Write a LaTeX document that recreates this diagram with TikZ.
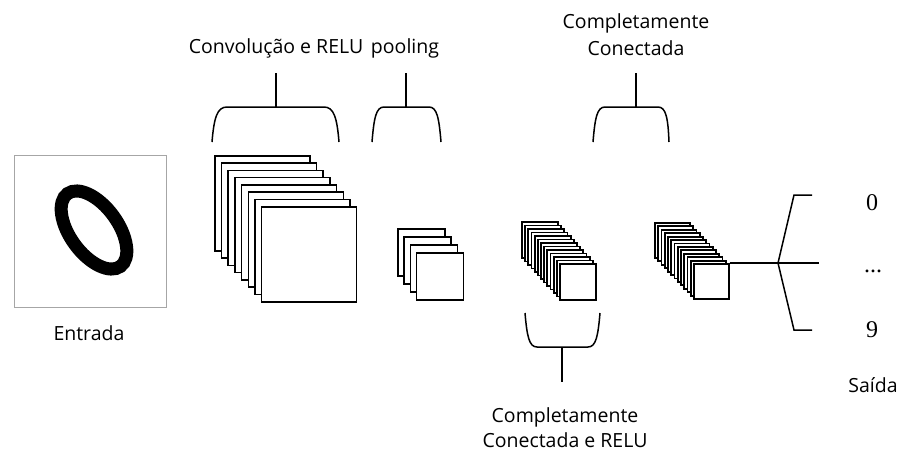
\documentclass[tikz,border=0pt]{standalone}
\usepackage{fontspec}
\setmainfont{Open Sans}
\newfontfamily\digitfont{Liberation Serif}
\usetikzlibrary{positioning}

\tikzset{
  sheet/.style={draw, fill=white, line width=1.5pt, inner sep=0pt, anchor=north west},
  thinsheet/.style={sheet, line width=1.9pt},
  brace/.style={line width=1.5pt},
  lbl/.style={font=\fontsize{19.5}{22}\selectfont, anchor=base},
  digit/.style={font=\digitfont\fontsize{24}{28}\selectfont, anchor=base}
}

\begin{document}
\begin{tikzpicture}[x=1pt,y=-1pt]
\useasboundingbox (0,0) rectangle (901,450);

% entrada
\node[draw=gray!70, line width=0.8pt, minimum size=152pt, inner sep=0pt, anchor=north west] (img) at (14,155) {};
\draw[line width=13pt, rotate around={-54:(94,230)}] (94,230) ellipse (45 and 24);
\node[lbl] (entrada) at (89,340) {Entrada};

% camadas
\foreach \i in {0,...,7}
  \node[sheet, minimum size=95pt] (conv\i) at ({214+6.71*\i},{155+7.29*\i}) {};
\foreach \i in {0,...,3}
  \node[sheet, minimum size=47pt] (pool\i) at ({397+6.33*\i},{228+8*\i}) {};
\foreach \i in {0,...,11}
  \node[thinsheet, minimum size=36pt] (fca\i) at ({521+3.17*\i},{221+3.5*\i}) {};
\node[sheet, minimum size=36pt] (fca12) at (559,263) {};
\foreach \i in {0,...,11}
  \node[thinsheet, minimum size=35pt] (fcb\i) at ({654+3.25*\i},{222+3.42*\i}) {};
\node[sheet, minimum size=35pt] (fcb12) at (693,263) {};

% chaves
\coordinate (convtip) at (276,107);
\draw[brace] (212,142) .. controls (214,118) and (217,107) .. (227,107) -- (324,107) .. controls (334,107) and (337,118) .. (339,142);
\draw[brace] (convtip) -- ++(0,-34);
\coordinate (pooltip) at (406,107);
\draw[brace] (372,142) .. controls (374,118) and (376,107) .. (384,107) -- (429,107) .. controls (437,107) and (439,118) .. (441,142);
\draw[brace] (pooltip) -- ++(0,-34);
\coordinate (fcbtip) at (636,107);
\draw[brace] (593,142) .. controls (595,118) and (597,107) .. (605,107) -- (658,107) .. controls (666,107) and (668,118) .. (669,142);
\draw[brace] (fcbtip) -- ++(0,-34);
\coordinate (fcatip) at (562,347);
\draw[brace] (525,313) .. controls (527,336) and (529,347) .. (537,347) -- (588,347) .. controls (596,347) and (598,336) .. (600,313);
\draw[brace] (fcatip) -- ++(0,35);

\node[lbl] (convlbl) at (276,53) {Convolução e RELU};
\node[lbl] (poollbl) at (405,53) {pooling};
\node[lbl] (fcblbla) at (636,28) {Completamente};
\node[lbl] (fcblblb) at (636,55) {Conectada};
\node[lbl] (fcalbla) at (565,422) {Completamente};
\node[lbl] (fcalblb) at (565,447) {Conectada e RELU};

% saida
\coordinate (split) at (778,263);
\coordinate (outend) at (819,263);
\draw[brace] (fcb12.north east) -- (outend);
\draw[brace] (812,195) -- (794,195) -- (split) -- (794,330) -- (812,330);
\node[digit] (out0) at (872,210) {0};
\node[digit] (outdots) at (873,272) {...};
\node[digit] (out9) at (872,337) {9};
\node[lbl] (saida) at (873,392) {Saída};
\end{tikzpicture}
\end{document}
